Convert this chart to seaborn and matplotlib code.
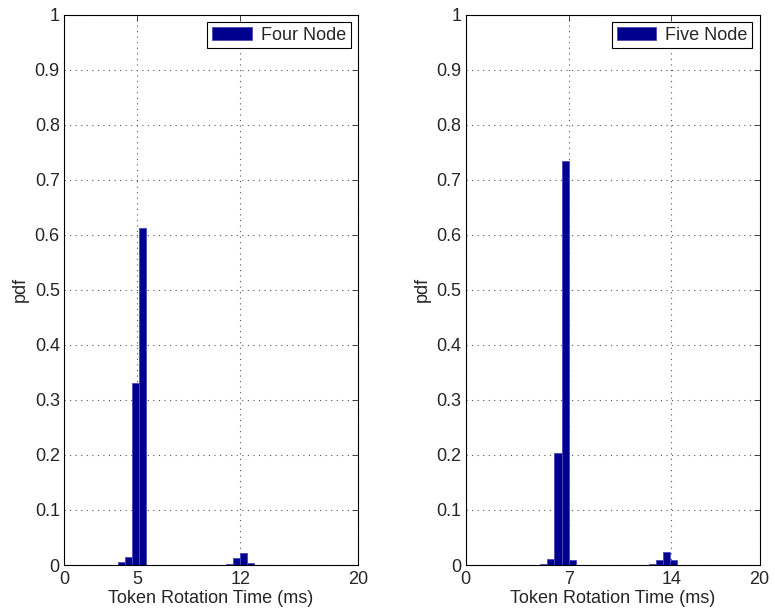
import matplotlib
matplotlib.use("Agg")
import matplotlib.pyplot as plt
import seaborn as sns
import pandas as pd

# Token rotation time histograms (bin centres in ms, pdf heights)
four_x = [3.89, 4.37, 4.85, 5.33, 11.27, 11.75, 12.23, 12.71]
four_pdf = [0.006, 0.015, 0.330, 0.613, 0.002, 0.013, 0.021, 0.004]

five_x = [5.32, 5.80, 6.28, 6.76, 7.24, 12.70, 13.18, 13.66, 14.14]
five_pdf = [0.001, 0.011, 0.203, 0.735, 0.009, 0.002, 0.009, 0.024, 0.009]

four_ticks = [0, 5, 12, 20]
five_ticks = [0, 7, 14, 20]
y_ticks = [0, 0.1, 0.2, 0.3, 0.4, 0.5, 0.6, 0.7, 0.8, 0.9, 1]
y_labels = ["0", "0.1", "0.2", "0.3", "0.4", "0.5", "0.6", "0.7", "0.8", "0.9", "1"]

sns.set_style("white")
plt.rcParams["font.family"] = ["Liberation Sans", "DejaVu Sans"]
plt.rcParams["xtick.direction"] = "in"
plt.rcParams["ytick.direction"] = "in"

bar_color = "#00008f"

fig = plt.figure(figsize=(7.75, 6.14), dpi=100)
ax1 = fig.add_axes([0.0826, 0.0798, 0.379, 0.896])
ax2 = fig.add_axes([0.601, 0.0798, 0.379, 0.896])


def draw_panel(ax, xs, ys, ticks, name):
    df = pd.DataFrame({"time": xs, "pdf": ys})
    sns.barplot(data=df, x="time", y="pdf", native_scale=True, width=1.0,
                color=bar_color, saturation=1, errorbar=None,
                edgecolor="#4a4ab8", linewidth=0.6, label=name, ax=ax)
    ax.set_xlim(0, 20)
    ax.set_ylim(0, 1)
    ax.set_xticks(ticks)
    ax.set_xticklabels([str(t) for t in ticks])
    ax.set_yticks(y_ticks)
    ax.set_yticklabels(y_labels)
    ax.tick_params(labelsize=13, length=4, width=0.6, top=True, right=True, pad=3)
    ax.tick_params(axis="x", pad=4)
    ax.grid(True, linestyle=(0, (1, 4)), color="#555555", linewidth=0.8)
    ax.set_axisbelow(True)
    for s in ax.spines.values():
        s.set_visible(True)
        s.set_color("black")
        s.set_linewidth(0.8)
    ax.set_xlabel("Token Rotation Time (ms)", fontsize=13, labelpad=2)
    ax.set_ylabel("pdf", fontsize=13, labelpad=4)
    leg = ax.legend(loc="upper right", fontsize=13, frameon=True, fancybox=False,
                    framealpha=1, edgecolor="black", borderaxespad=0.4,
                    handlelength=2.2, handleheight=0.8, handletextpad=0.5,
                    borderpad=0.25)
    leg.get_frame().set_linewidth(0.8)


draw_panel(ax1, four_x, four_pdf, four_ticks, "Four Node")
draw_panel(ax2, five_x, five_pdf, five_ticks, "Five Node")

fig.savefig("out.png", dpi=100)
